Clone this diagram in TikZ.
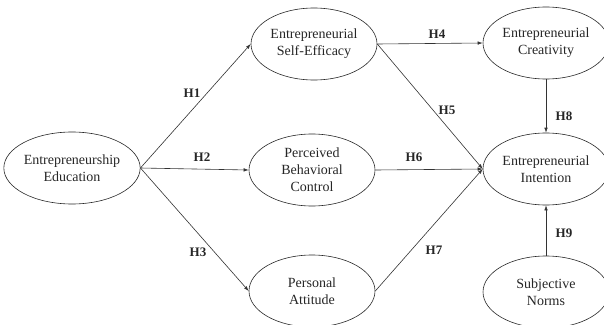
\documentclass[tikz,border=0pt]{standalone}
\usepackage{fontspec}
\setmainfont{Liberation Serif}
\usetikzlibrary{shapes.geometric,arrows.meta}
\begin{document}
\begin{tikzpicture}[x=1pt,y=-1pt,
  construct/.style={draw=black!85,line width=0.6pt,ellipse,minimum width=126pt,minimum height=72pt,inner sep=0pt,align=center,font=\fontsize{14}{17}\selectfont,text=black!85},
  path/.style={draw=black!80,line width=0.6pt,-{Latex[length=5pt,width=3.5pt]}},
  hlabel/.style={font=\fontsize{13}{15}\selectfont\bfseries,text=black!85}]
\useasboundingbox (0,0) rectangle (604,324);
\node[construct] (edu) at (72,168) {Entrepreneurship\\Education};
\node[construct] (se) at (314,44) {Entrepreneurial\\Self-Efficacy};
\node[construct] (pbc) at (312,170) {Perceived\\Behavioral\\Control};
\node[construct] (pa) at (312,291) {Personal\\Attitude};
\node[construct] (ec) at (546,43) {Entrepreneurial\\Creativity};
\node[construct] (ei) at (546,169) {Entrepreneurial\\Intention};
\node[construct] (sn) at (546,292) {Subjective\\Norms};
\draw[path] (edu.east) -- (se.west);
\draw[path] (edu.east) -- (pbc.west);
\draw[path] (edu.east) -- (pa.west);
\draw[path] (se.east) -- (ec.west);
\draw[path] (se.east) -- (ei.west);
\draw[path] (pbc.east) -- (ei.west);
\draw[path] (pa.east) -- (ei.west);
\draw[path] (ec.south) -- (ei.north);
\draw[path] (sn.north) -- (ei.south);
\node[hlabel] (h1) at (192,93) {H1};
\node[hlabel] (h2) at (202,157) {H2};
\node[hlabel] (h3) at (198,252) {H3};
\node[hlabel] (h4) at (437,34) {H4};
\node[hlabel] (h5) at (447,110) {H5};
\node[hlabel] (h6) at (414,157) {H6};
\node[hlabel] (h7) at (434,250) {H7};
\node[hlabel] (h8) at (564,116) {H8};
\node[hlabel] (h9) at (564,233) {H9};
\end{tikzpicture}
\end{document}
